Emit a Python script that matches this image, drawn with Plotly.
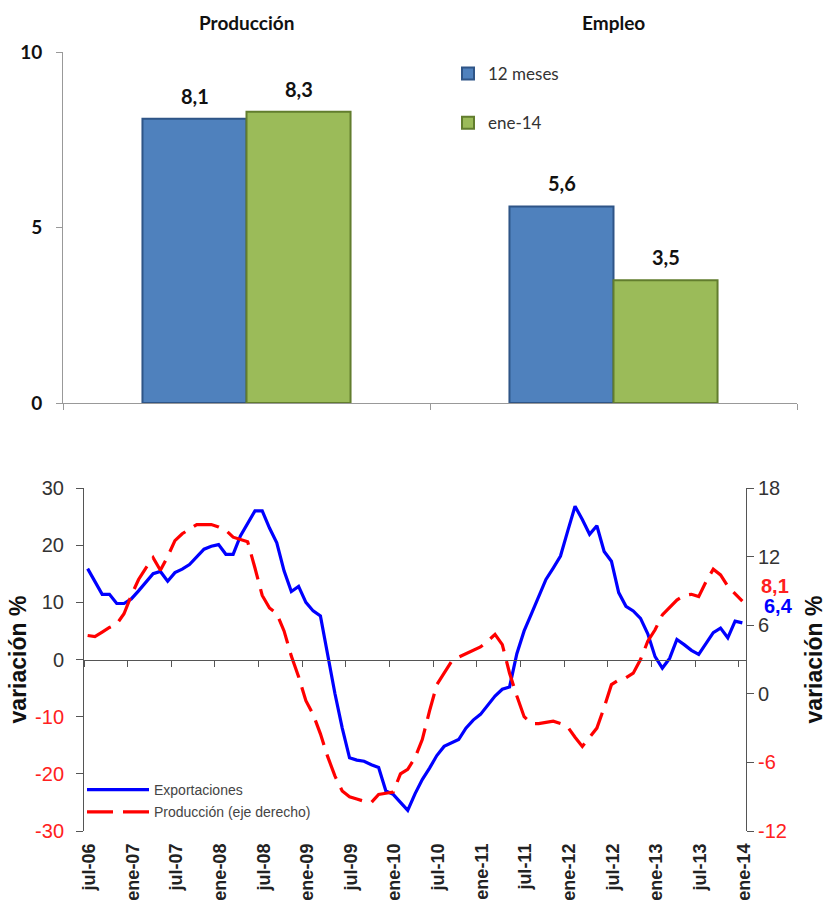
import plotly.graph_objects as go
import numpy as np

# ---------------- data ----------------
categorias = ["Producción", "Empleo"]
serie_12_meses = [8.1, 5.6]
serie_ene14 = [8.3, 3.5]
nombres_barras = ["12 meses", "ene-14"]

etiquetas_meses = ["jul-06", "ene-07", "jul-07", "ene-08", "jul-08", "ene-09",
                   "jul-09", "ene-10", "jul-10", "ene-11", "jul-11", "ene-12",
                   "jul-12", "ene-13", "jul-13", "ene-14"]

# monthly values jul-06 .. ene-14 (91 months)
exportaciones = [
    15.9, 13.6, 11.4, 11.4, 9.8, 9.8, 10.6, 12.0, 13.6, 15.0,
    15.4, 13.7, 15.2, 15.8, 16.6, 18.0, 19.3, 19.8, 20.1, 18.4,
    18.4, 21.6, 23.8, 26.0, 26.0, 23.0, 20.4, 15.5, 11.9, 12.8,
    10.0, 8.5, 7.6, 0.5, -6.0, -12.0, -17.2, -17.6, -17.8, -18.4,
    -18.9, -23.0, -23.6, -25.0, -26.4, -23.5, -21.0, -19.0, -16.8, -15.2,
    -14.6, -14.0, -12.0, -10.6, -9.6, -8.0, -6.4, -5.2, -4.8, 1.0,
    5.0, 8.0, 11.0, 14.0, 16.0, 18.1, 22.5, 26.8, 24.5, 21.9,
    23.4, 18.9, 17.2, 11.7, 9.3, 8.5, 7.2, 4.5, 0.5, -1.5,
    0.2, 3.5, 2.6, 1.6, 0.9, 2.8, 4.7, 5.5, 3.8, 6.7,
    6.4,
]
produccion = [
    5.1, 5.0, 5.4, 5.8, 6.1, 7.0, 8.6, 10.0, 11.0, 11.9,
    10.8, 12.0, 13.4, 14.0, 14.4, 14.8, 14.8, 14.8, 14.6, 14.3,
    13.7, 13.5, 13.3, 11.0, 8.6, 7.5, 7.0, 5.5, 3.3, 1.5,
    -0.6, -1.8, -3.5, -5.5, -7.2, -8.5, -9.0, -9.2, -9.4, -9.5,
    -8.8, -8.7, -8.6, -7.0, -6.6, -5.6, -4.0, -1.5, 0.8, 1.8,
    2.8, 3.2, 3.5, 3.8, 4.1, 4.6, 5.2, 4.3, 1.8, -0.2,
    -2.0, -2.6, -2.6, -2.5, -2.4, -2.6, -2.9, -3.8, -4.6, -3.8,
    -3.0, -1.2, 0.8, 1.2, 1.4, 1.8, 3.0, 4.6, 5.6, 6.9,
    7.6, 8.2, 8.6, 8.7, 8.5, 9.8, 10.9, 10.4, 9.4, 8.7,
    8.1,
]

ticks_izq = [30, 20, 10, 0, -10, -20, -30]
ticks_der = [18, 12, 6, 0, -6, -12]

# ---------------- helpers ----------------
W, H = 827, 906


def fx(p):
    return p / W


def fy(p):
    return 1 - p / H


def coma(v):
    return f"{v:.1f}".replace(".", ",")


def tick_txt(v):
    if v < 0:
        return f"<span style='color:#FF2020'>{v}</span>"
    return str(v)


HUMAN = "Lato, Open Sans, sans-serif"
ARIAL = "Liberation Sans, Arial, sans-serif"

meses_x = np.arange(len(exportaciones)) + 0.5

fig = go.Figure()

# ---------------- top bar chart ----------------
colores = ["#4F81BD", "#9BBB59"]
bordes = ["#2F5587", "#627D2E"]
series_barras = [serie_12_meses, serie_ene14]
for i, (nombre, vals) in enumerate(zip(nombres_barras, series_barras)):
    fig.add_trace(go.Bar(
        x=categorias, y=vals, name=nombre,
        marker=dict(color=colores[i], line=dict(color=bordes[i], width=2)),
        xaxis="x", yaxis="y",
        legend="legend", legendgroup=f"g{i}",
    ))

# ---------------- bottom line chart ----------------
fig.add_trace(go.Scatter(
    x=meses_x, y=exportaciones, mode="lines", name="Exportaciones",
    line=dict(color="#0000FF", width=3.2),
    xaxis="x2", yaxis="y2", legend="legend2", legendgroup="e",
))
fig.add_trace(go.Scatter(
    x=meses_x, y=produccion, mode="lines", name="Producción (eje derecho)",
    line=dict(color="#FF0000", width=3.2, dash="26px,10px"),
    xaxis="x2", yaxis="y3", legend="legend2", legendgroup="p",
))
# empty trace to register the zero-line tick axis
fig.add_trace(go.Scatter(x=[], y=[], xaxis="x3", yaxis="y2", showlegend=False,
                         hoverinfo="skip"))

top_dom = [fy(403), fy(52)]
bot_dom = [fy(831), fy(488)]

annotations = []
for c in categorias:
    annotations.append(dict(
        x=c, xref="x", y=fy(22), yref="paper", text=c,
        showarrow=False, font=dict(family=HUMAN, size=19, color="#111", weight="bold"),
        yanchor="middle",
    ))
# bar value labels (grouped bars: half a bar to the left / right of category centre)
medio_barra = 52
for i, vals in enumerate(series_barras):
    for c, v in zip(categorias, vals):
        annotations.append(dict(
            x=c, xref="x", y=v, yref="y", text=coma(v),
            showarrow=False, xshift=(-medio_barra if i == 0 else medio_barra),
            yshift=23, yanchor="middle",
            font=dict(family=HUMAN, size=20, color="#111", weight="bold"),
        ))
annotations.append(dict(
    x=meses_x[-1], xref="x2", y=produccion[-1], yref="y3", text=coma(produccion[-1]),
    showarrow=False, xshift=33, yshift=15,
    font=dict(family=ARIAL, size=20, color="#FF2020", weight="bold"),
))
annotations.append(dict(
    x=meses_x[-1], xref="x2", y=exportaciones[-1], yref="y2", text=coma(exportaciones[-1]),
    showarrow=False, xshift=36, yshift=17,
    font=dict(family=ARIAL, size=20, color="#0000FF", weight="bold"),
))

fig.update_layout(
    width=W, height=H,
    margin=dict(l=0, r=0, t=0, b=0, autoexpand=False),
    paper_bgcolor="white", plot_bgcolor="white",
    barmode="group", bargap=0.433, bargroupgap=0,
    showlegend=True,
    annotations=annotations,
    xaxis=dict(
        domain=[fx(63), fx(797)], anchor="y", automargin=False,
        showline=True, linecolor="#999", linewidth=1,
        ticks="outside", tickson="boundaries", ticklen=6, tickcolor="#999",
        showticklabels=False, showgrid=False, zeroline=False,
    ),
    yaxis=dict(
        domain=top_dom, anchor="x", range=[0, 10], automargin=False,
        tickvals=[0, 5, 10], showline=True, linecolor="#999", linewidth=1,
        ticks="outside", ticklen=6, tickcolor="#999",
        tickfont=dict(family=HUMAN, size=19, color="#111", weight="bold"),
        ticklabelstandoff=10,
        showgrid=False, zeroline=False,
    ),
    xaxis2=dict(
        domain=[fx(84), fx(746)], anchor="y2", range=[0, 91], automargin=False,
        tickvals=[6 * k + 0.7 for k in range(len(etiquetas_meses))],
        ticktext=etiquetas_meses, tickangle=-90, ticks="",
        tickfont=dict(family=ARIAL, size=18, color="#222", weight="bold"),
        ticklabelstandoff=8,
        showline=False, showgrid=False, zeroline=False,
    ),
    xaxis3=dict(
        overlaying="x2", anchor="free", position=(bot_dom[0] + bot_dom[1]) / 2,
        range=[0, 91], tickvals=[6 * k for k in range(len(etiquetas_meses))],
        automargin=False,
        ticks="outside", ticklen=6, tickcolor="#555",
        showline=True, linecolor="#555", linewidth=1,
        showticklabels=False, showgrid=False, zeroline=False,
    ),
    yaxis2=dict(
        domain=bot_dom, anchor="x2", range=[-30, 30], automargin=False,
        tickvals=ticks_izq, ticktext=[tick_txt(v) for v in ticks_izq],
        tickfont=dict(family=ARIAL, size=20, color="#333"),
        ticklabelstandoff=8,
        showline=True, linecolor="#555", linewidth=1,
        ticks="outside", ticklen=7, tickcolor="#555",
        showgrid=False, zeroline=False,
        title=dict(text="variación %", standoff=2,
                   font=dict(family=ARIAL, size=23, color="#111", weight="bold")),
    ),
    yaxis3=dict(
        overlaying="y2", side="right", anchor="x2", range=[-12, 18], automargin=False,
        tickvals=ticks_der, ticktext=[tick_txt(v) for v in ticks_der],
        tickfont=dict(family=ARIAL, size=20, color="#333"),
        showline=True, linecolor="#555", linewidth=1,
        ticks="outside", ticklen=7, tickcolor="#555",
        showgrid=False, zeroline=False,
        title=dict(text="variación %", standoff=22,
                   font=dict(family=ARIAL, size=23, color="#111", weight="bold")),
    ),
    legend=dict(
        x=fx(448), y=fy(56), xanchor="left", yanchor="top",
        font=dict(family=HUMAN, size=17, color="#333"),
        bgcolor="rgba(0,0,0,0)", tracegroupgap=24, itemwidth=30,
    ),
    legend2=dict(
        x=fx(82), y=fy(774), xanchor="left", yanchor="top",
        font=dict(family=ARIAL, size=14, color="#444"),
        bgcolor="rgba(0,0,0,0)", tracegroupgap=1, itemwidth=62,
    ),
)

fig.write_html("out.html")
